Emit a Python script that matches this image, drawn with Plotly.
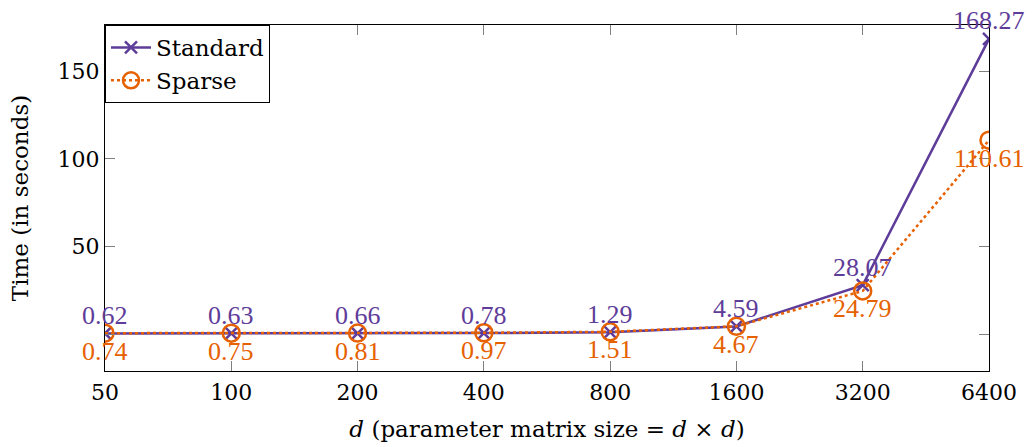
import plotly.graph_objects as go

d_values = ["50", "100", "200", "400", "800", "1600", "3200", "6400"]
standard = [0.62, 0.63, 0.66, 0.78, 1.29, 4.59, 28.07, 168.27]
sparse = [0.74, 0.75, 0.81, 0.97, 1.51, 4.67, 24.79, 110.61]
y_tickvals = [0, 50, 100, 150]
y_ticktext = ["", "50", "100", "150"]

PURPLE = "#5e3c99"
ORANGE = "#e66101"
TICK_FONT = dict(family="DejaVu Serif", size=22, color="black")
LABEL_FONT = "Liberation Serif"

fig = go.Figure()
fig.add_trace(go.Scatter(
    x=d_values, y=standard, name="Standard", mode="lines+markers",
    line=dict(color=PURPLE, width=2.5),
    marker=dict(symbol="x-thin", size=12, line=dict(color=PURPLE, width=2.5)),
))
fig.add_trace(go.Scatter(
    x=d_values, y=sparse, name="Sparse", mode="lines+markers",
    line=dict(color=ORANGE, width=2.5, dash="dot"),
    marker=dict(symbol="circle-open", size=17, line=dict(color=ORANGE, width=2.5)),
))

# category axis: annotations positioned by category index
for i, yv in enumerate(standard):
    fig.add_annotation(x=i, y=yv, text=f"{yv:.2f}", showarrow=False, yshift=18,
                       font=dict(family=LABEL_FONT, size=26, color=PURPLE))
for i, yv in enumerate(sparse):
    fig.add_annotation(x=i, y=yv, text=f"{yv:.2f}", showarrow=False, yshift=-18,
                       font=dict(family=LABEL_FONT, size=26, color=ORANGE))

fig.update_layout(
    width=1032, height=447,
    margin=dict(l=105, r=43, t=25, b=76),
    paper_bgcolor="white", plot_bgcolor="white",
    showlegend=True,
    legend=dict(x=0, y=1, xanchor="left", yanchor="top",
                bordercolor="black", borderwidth=1, bgcolor="white",
                font=dict(family="DejaVu Serif", size=23, color="black"),
                tracegroupgap=0, itemwidth=40),
    font=TICK_FONT,
)
fig.update_xaxes(
    type="category", range=[0, 7], automargin=False,
    showline=True, linecolor="black", linewidth=1, mirror="allticks",
    ticks="inside", ticklen=10, tickcolor="gray", tickwidth=1,
    showgrid=False, zeroline=False, tickfont=TICK_FONT, ticklabelstandoff=2,
    title=dict(text="<i>d</i> (parameter matrix size = <i>d</i> × <i>d</i>)",
               font=dict(family="DejaVu Serif", size=23), standoff=16),
)
fig.update_yaxes(
    range=[-20.8, 176.2], tickvals=y_tickvals, ticktext=y_ticktext, automargin=False,
    showline=True, linecolor="black", linewidth=1, mirror="allticks",
    ticks="inside", ticklen=10, tickcolor="gray", tickwidth=1,
    showgrid=False, zeroline=False, tickfont=TICK_FONT,
    title=dict(text="Time (in seconds)", font=dict(family="DejaVu Serif", size=23), standoff=22),
)

fig.write_html("out.html")
